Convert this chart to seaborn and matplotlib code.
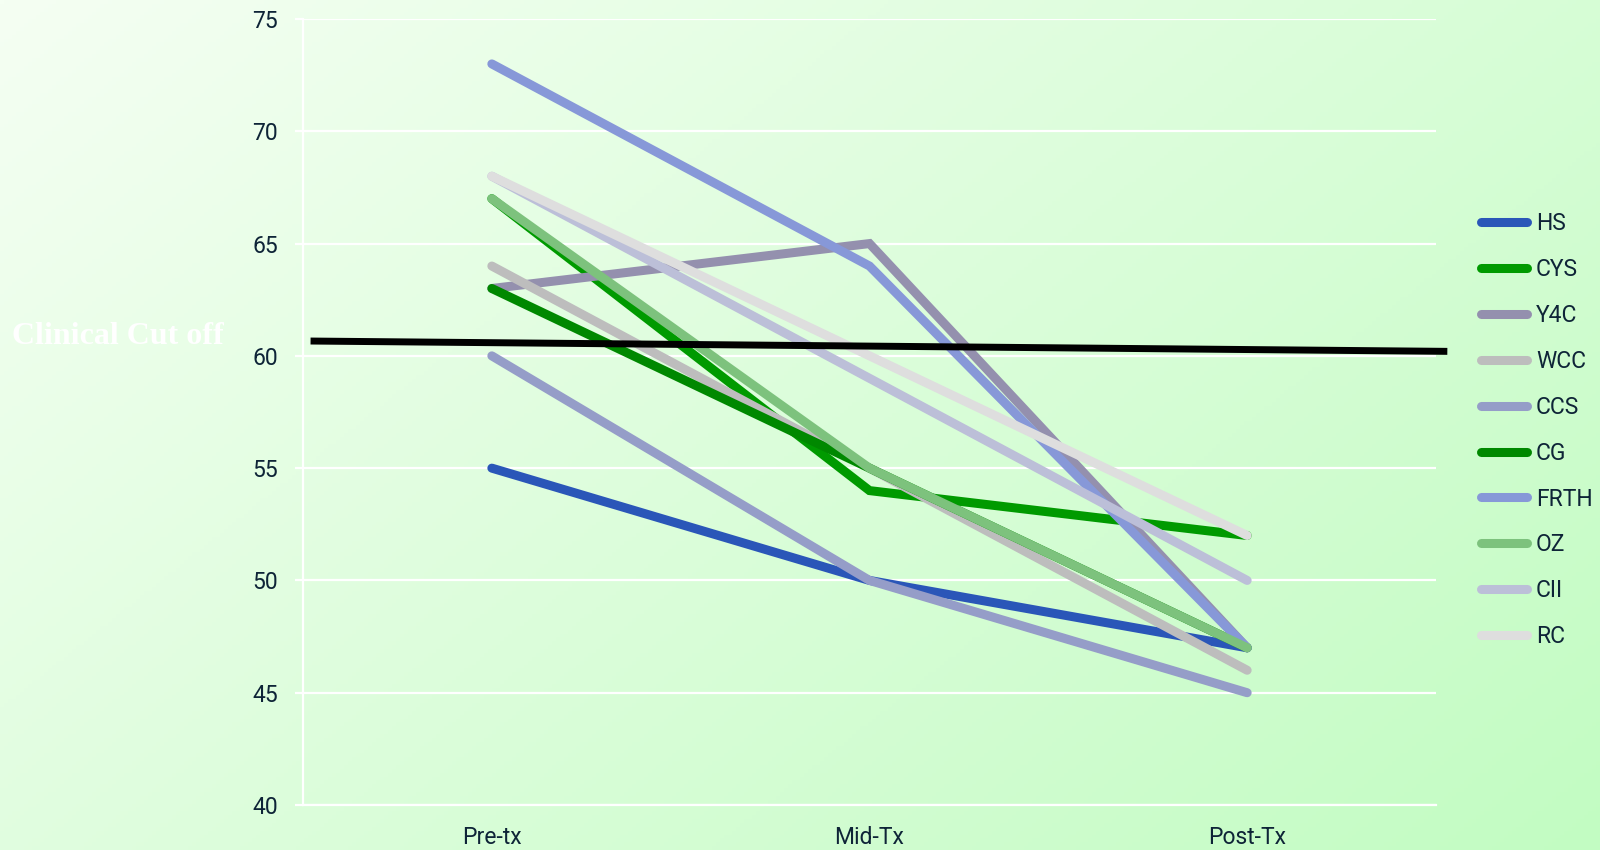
import numpy as np
import pandas as pd
import seaborn as sns
import matplotlib.pyplot as plt
from matplotlib.ticker import FixedLocator

# ==========================================
# Dados
# ==========================================
phases = ['Pre-tx', 'Mid-Tx', 'Post-Tx']
groups = ['HS', 'CYS', 'Y4C', 'WCC', 'CCS', 'CG', 'FRTH', 'OZ', 'CII', 'RC']

hs = [55, 50, 47]
cys = [67, 54, 52]
y4c = [63, 65, 47]
wcc = [64, 55, 46]
ccs = [60, 50, 45]
cg = [63, 55, 47]
frth = [73, 64, 47]
oz = [67, 55, 47]
cii = [68, 59, 50]
rc = [68, 60, 52]

colors = ['#2a56b8', '#009a00', '#9490ae', '#bdbdbd', '#959dc8',
          '#008800', '#8798d8', '#7dc27d', '#bcbfd8', '#dedede']

cutoff_x = [-0.48, 2.53]
cutoff_y = [60.66, 60.2]
cutoff_label = 'Clinical Cut off'

y_ticks = [40, 45, 50, 55, 60, 65, 70, 75]

series = [hs, cys, y4c, wcc, ccs, cg, frth, oz, cii, rc]
df = pd.DataFrame({
    'fase': phases * len(groups),
    'valor': [v for s in series for v in s],
    'grupo': [g for g in groups for _ in phases],
})

# ==========================================
# Figura
# ==========================================
sns.set_theme(style='white')
plt.rcParams['font.family'] = ['Roboto', 'DejaVu Sans']

fig = plt.figure(figsize=(16, 8.5), dpi=100)

# fundo em degrade
bg = fig.add_axes([0, 0, 1, 1], zorder=-10)
gx, gy = np.meshgrid(np.linspace(0, 1, 400), np.linspace(0, 1, 220))
t = (gx * 0.6 + gy * 0.4)
c0 = np.array([245, 255, 243]) / 255
c1 = np.array([194, 252, 194]) / 255
img = c0[None, None, :] * (1 - t[..., None]) + c1[None, None, :] * t[..., None]
bg.imshow(img, aspect='auto', extent=[0, 1, 0, 1], origin='upper')
bg.axis('off')

ax = fig.add_axes([303 / 1600, 1 - 805 / 850, (1436 - 303) / 1600, (805 - 19) / 850])
ax.set_facecolor('none')

sns.lineplot(data=df, x='fase', y='valor', hue='grupo', hue_order=groups,
             palette=colors, linewidth=6.5, sort=False, ax=ax,
             solid_capstyle='round', solid_joinstyle='miter')

ax.plot(cutoff_x, cutoff_y, color='black', linewidth=5, clip_on=False,
        solid_capstyle='butt', zorder=5)
fig.text(12 / 1600, 1 - 337 / 850, cutoff_label, color='white',
         fontsize=23, fontweight='bold', family='Liberation Serif', va='center')

ax.set_xlim(-0.5, 2.5)
ax.set_ylim(40, 75)
ax.set_yticks(y_ticks)
ax.set_xlabel('')
ax.set_ylabel('')
ax.yaxis.grid(True, color='white', linewidth=1.6)
ax.set_axisbelow(True)

for side in ['top', 'right']:
    ax.spines[side].set_visible(False)
for side in ['left', 'bottom']:
    ax.spines[side].set_color('white')
    ax.spines[side].set_linewidth(1.6)

ax.xaxis.set_minor_locator(FixedLocator([-0.5, 0.5, 1.5, 2.5]))
ax.tick_params(axis='x', which='major', length=0, pad=15, labelsize=16.5, labelcolor='#0e2437')
ax.tick_params(axis='x', which='minor', length=6, width=1.6, color='white', direction='out')
ax.tick_params(axis='y', length=6, width=1.6, color='white', direction='out', pad=12,
               labelsize=16.5, labelcolor='#0e2437', left=True)

handles, labels = ax.get_legend_handles_labels()
ax.get_legend().remove()
for h in handles:
    h.set_solid_capstyle('round')
    h.set_linewidth(6.5)
leg = fig.legend(handles, labels, loc='upper left',
                 bbox_to_anchor=(1481 / 1600, 1 - 212 / 850),
                 frameon=False, fontsize=16.5, handlelength=2.0,
                 handletextpad=0.4, labelspacing=1.0, borderpad=0, borderaxespad=0)
for txt in leg.get_texts():
    txt.set_color('#0e2437')

fig.savefig('out.png', dpi=100)
